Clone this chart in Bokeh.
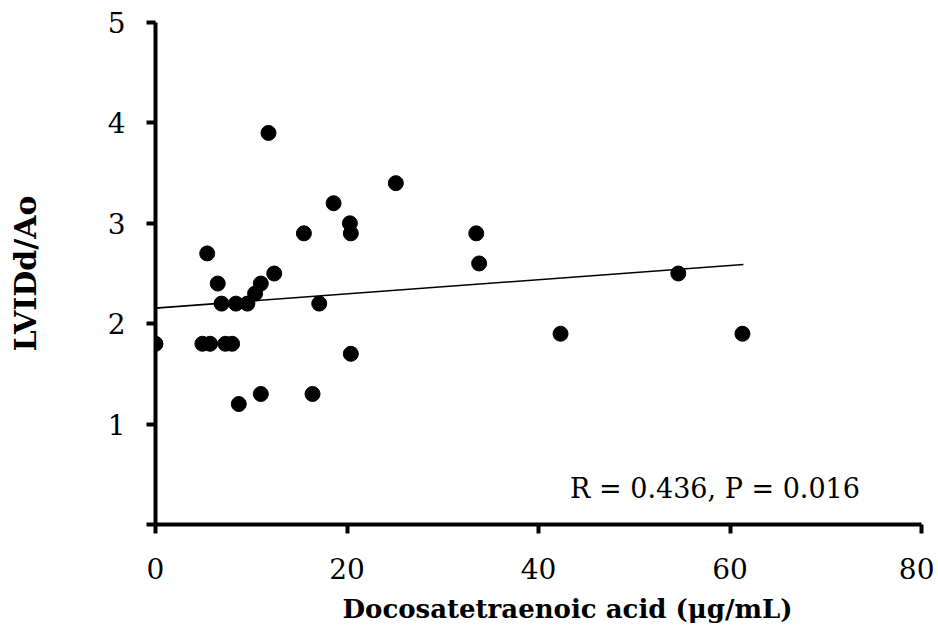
from bokeh.plotting import figure
from bokeh.models import Range1d, FixedTicker, Label, Title
from bokeh.embed import file_html
from bokeh.resources import INLINE

# Data
dta = [0.0, 4.9, 5.7, 7.3, 8.0, 5.4, 6.5, 6.9, 8.4, 9.6, 10.4, 11.0, 12.4, 11.8,
       15.5, 17.1, 16.4, 8.7, 11.0, 18.6, 20.3, 20.4, 20.4, 25.1, 33.5, 33.8,
       42.3, 54.6, 61.3]
lvidd_ao = [1.8, 1.8, 1.8, 1.8, 1.8, 2.7, 2.4, 2.2, 2.2, 2.2, 2.3, 2.4, 2.5, 3.9,
            2.9, 2.2, 1.3, 1.2, 1.3, 3.2, 3.0, 2.9, 1.7, 3.4, 2.9, 2.6,
            1.9, 2.5, 1.9]
trend_x = [0.0, 61.4]
trend_y = [2.155, 2.59]
x_ticks = [0, 20, 40, 60, 80]
y_ticks = [0, 1, 2, 3, 4, 5]
stat_text = "R = 0.436, P = 0.016"
x_title = "Docosatetraenoic acid (\u03bcg/mL)"
y_title = "LVIDd/Ao"

FONT = "DejaVu Serif"

p = figure(width=934, height=634, output_backend="svg", toolbar_location=None,
           x_range=Range1d(0, 80), y_range=Range1d(0, 5),
           min_border_left=155, min_border_right=13, min_border_top=22,
           min_border_bottom=110)
p.background_fill_color = "white"
p.border_fill_color = "white"
p.outline_line_color = None
p.xgrid.visible = False
p.ygrid.visible = False

p.line(trend_x, trend_y, line_color="black", line_width=1.6)
p.scatter(dta, lvidd_ao, size=15, marker="circle", fill_color="black",
          line_color="black")

p.add_layout(Label(x=43.3, y=0.36, text=stat_text, text_font=FONT,
                   text_font_size="27px", text_color="black",
                   text_baseline="alphabetic", text_align="left"))

for ax in (p.xaxis[0], p.yaxis[0]):
    ax.axis_line_width = 4
    ax.axis_line_color = "black"
    ax.major_tick_line_width = 4
    ax.major_tick_line_color = "black"
    ax.major_tick_in = 0
    ax.major_tick_out = 9
    ax.minor_tick_line_color = None
    ax.major_label_text_font = FONT
    ax.major_label_text_font_size = "28px"
    ax.major_label_text_color = "black"
    ax.axis_label_text_font = FONT
    ax.axis_label_text_font_style = "bold"
    ax.axis_label_text_color = "black"

p.xaxis[0].ticker = FixedTicker(ticks=x_ticks)
p.yaxis[0].ticker = FixedTicker(ticks=y_ticks)
p.yaxis[0].major_label_overrides = {0: ""}
p.yaxis[0].axis_label = y_title
p.yaxis[0].axis_label_text_font_size = "30px"
p.xaxis[0].major_label_standoff = 24
p.yaxis[0].major_label_standoff = 21
p.yaxis[0].axis_label_standoff = 62

# x-axis title, placed right of the frame centre as in the reference
p.add_layout(Title(text=x_title, align="left", offset=187, standoff=20,
                   text_font=FONT, text_font_size="26px",
                   text_font_style="bold", text_color="black"), "below")

open("out.html", "w").write(file_html(p, INLINE))
